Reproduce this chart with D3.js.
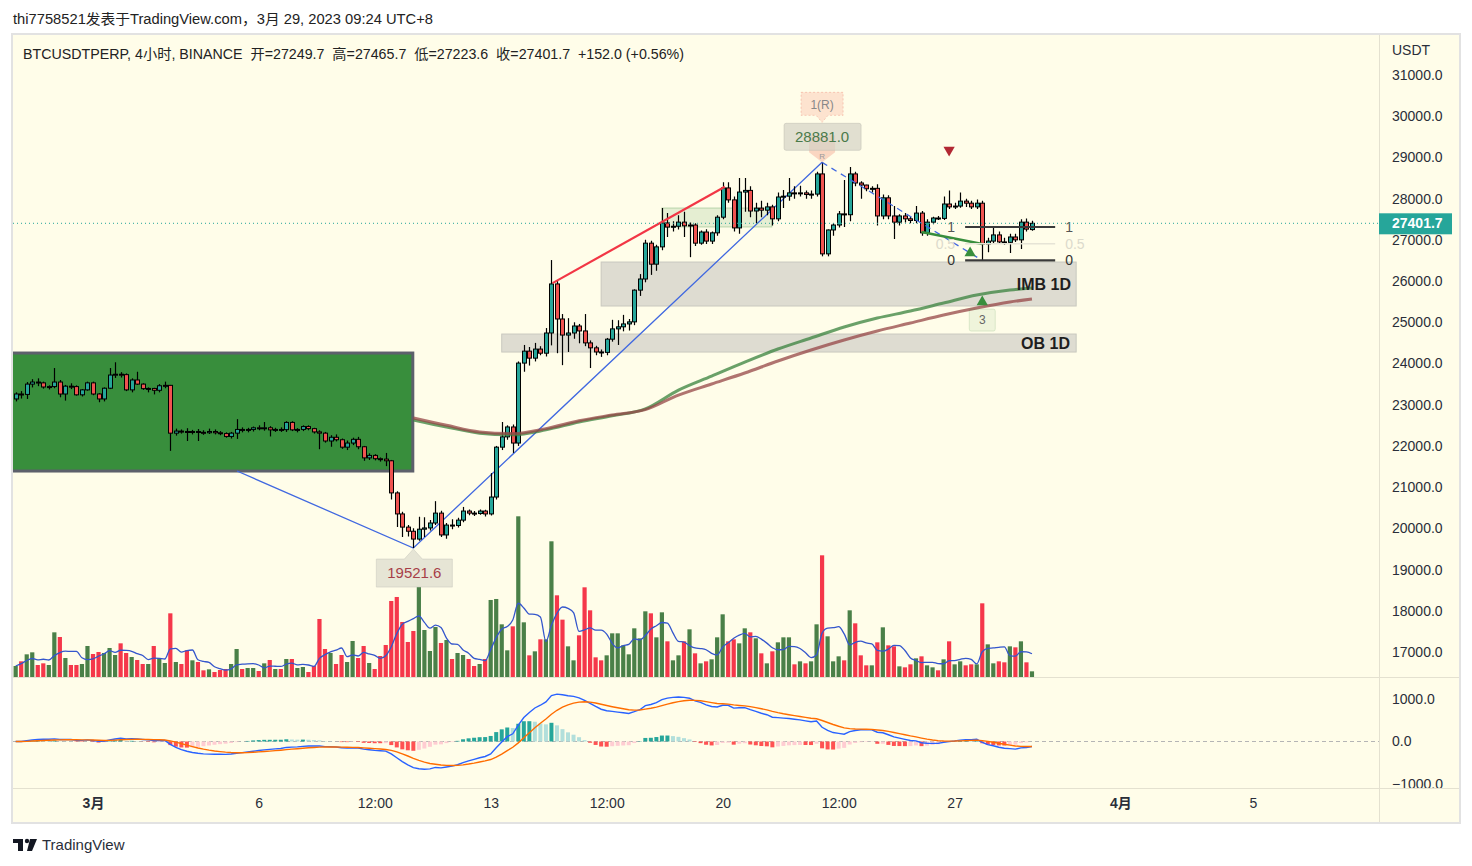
<!DOCTYPE html>
<html><head><meta charset="utf-8">
<script src="https://cdn.jsdelivr.net/npm/d3@7"></script>
<style>
body{margin:0;background:#fff;}
svg text{font-family:"Liberation Sans","Noto Sans CJK SC",sans-serif;}
</style></head><body>
<svg id="c" width="1472" height="866"></svg>
<script>
// ---------------- DATA ----------------
const barStartUTC = Date.UTC(2023,1,26,16,0); // first 4h bar (UTC+8 wall clock)
const barHours = 4;
// [open, high, low, close]
const ohlc = [
[23140,23300,23080,23260],[23260,23330,23150,23250],[23250,23550,23140,23500],[23500,23620,23420,23550],
[23550,23640,23450,23530],[23530,23560,23390,23430],[23430,23470,23370,23440],[23440,23890,23400,23550],
[23550,23600,23180,23260],[23260,23480,23100,23450],[23450,23520,23380,23440],[23440,23470,23220,23240],
[23240,23380,23200,23360],[23360,23560,23340,23530],[23530,23560,23230,23260],[23260,23280,23060,23140],
[23140,23420,23080,23400],[23400,23890,23380,23720],[23720,24030,23650,23740],[23740,23790,23660,23730],
[23730,23760,23330,23360],[23360,23640,23300,23600],[23600,23800,23480,23500],[23500,23520,23360,23390],
[23390,23420,23300,23395],[23395,23410,23250,23350],[23350,23500,23300,23460],[23460,23560,23400,23470],
[23470,23480,21880,22310],[22310,22420,22250,22360],[22360,22400,22300,22350],[22350,22430,22120,22340],
[22340,22390,22280,22350],[22350,22410,22120,22330],[22330,22380,22270,22320],[22320,22420,22290,22350],
[22350,22400,22280,22320],[22320,22360,22260,22300],[22300,22330,22200,22230],[22230,22340,22180,22310],
[22310,22650,22170,22400],[22400,22450,22330,22390],[22390,22440,22330,22400],[22400,22470,22350,22440],
[22440,22500,22380,22430],[22430,22580,22370,22440],[22440,22480,22230,22390],[22390,22440,22340,22400],
[22400,22450,22340,22395],[22395,22600,22340,22570],[22570,22600,22360,22390],[22390,22430,22330,22400],
[22400,22500,22360,22470],[22470,22500,22380,22420],[22420,22440,22300,22340],[22340,22380,21920,22310],
[22310,22340,22080,22120],[22120,22260,21980,22210],[22210,22280,22110,22150],[22150,22180,21930,21970],
[21970,22130,21900,22070],[22070,22200,22020,22160],[22160,22220,21920,21980],[21980,22000,21640,21710],
[21710,21820,21660,21770],[21770,21800,21650,21690],[21690,21720,21620,21680],[21680,21830,21510,21640],
[21640,21660,20700,20860],[20860,20900,20030,20350],[20350,20400,19790,20030],[20030,20080,19800,19930],
[19930,20000,19521.6,19740],[19740,20280,19700,19980],[19980,20270,19790,20010],[20010,20200,19950,20130],
[20130,20660,20080,20370],[20370,20430,19790,19840],[19840,20130,19750,20080],[20080,20220,19980,20070],
[20070,20260,20020,20200],[20200,20520,20150,20420],[20420,20460,20320,20370],[20370,20420,20300,20360],
[20360,20460,20330,20420],[20420,20450,20290,20350],[20350,21340,20310,20760],[20760,22000,20700,21970],
[21970,22580,21900,22220],[22220,22500,22150,22460],[22460,22520,21830,22070],[22070,24050,22000,24010],
[24010,24450,23800,24300],[24300,24400,23950,24130],[24130,24500,24050,24350],[24350,24420,24200,24250],
[24250,24860,24170,24740],[24740,26510,24440,25930],[25930,26000,24250,25080],[25080,25200,23960,24690],
[24690,25100,24280,24740],[24740,25000,24600,24910],[24910,24960,24490,24790],[24790,25200,24420,24500],
[24500,24560,23890,24380],[24380,24430,24200,24280],[24280,24340,24160,24270],[24270,24620,24200,24590],
[24590,25060,24530,24840],[24840,25050,24450,24890],[24890,25180,24780,24960],[24960,25080,24800,25010],
[25010,25800,24930,25780],[25780,26170,25640,26050],[26050,27000,25970,26920],[26920,26980,26150,26410],
[26410,26880,26250,26830],[26830,27770,26750,27410],[27410,27650,27070,27310],[27310,27450,27200,27330],
[27330,27600,27250,27430],[27430,27680,27070,27340],[27340,27420,26580,27360],[27360,27400,26850,26920],
[26920,27230,26880,27190],[27190,27260,26900,26970],[26970,27200,26900,27170],[27170,27600,27100,27550],
[27550,28400,27500,28260],[28260,28400,27900,27970],[27970,28050,27200,27290],[27290,28500,27150,28160],
[28160,28500,27680,28200],[28200,28300,27550,27700],[27700,27900,27400,27770],[27770,27950,27550,27720],
[27720,27900,27600,27800],[27800,27850,27350,27510],[27510,28150,27450,28040],[28040,28210,27770,28060],
[28060,28500,27950,28140],[28140,28300,28000,28120],[28120,28310,28050,28140],[28140,28200,28000,28100],
[28100,28200,28000,28110],[28110,28650,28050,28600],[28600,28881,26600,26660],[26660,27250,26600,27240],
[27240,27400,27100,27360],[27360,27700,27300,27630],[27630,28450,27310,27610],[27610,28770,27450,28600],
[28600,28650,28300,28380],[28380,28420,28000,28330],[28330,28340,28180,28240],[28240,28300,28150,28250],
[28250,28350,27350,27580],[27580,28100,27500,28020],[28020,28080,27500,27580],[27580,27820,27020,27430],
[27430,27620,27350,27580],[27580,27650,27420,27510],[27510,27560,27400,27470],[27470,27820,27400,27650],
[27650,27700,27100,27170],[27170,27500,27100,27430],[27430,27560,27380,27530],[27530,27580,27480,27520],
[27520,28050,27480,27870],[27870,28200,27750,27800],[27800,27900,27750,27820],[27820,28150,27780,27940],
[27940,28000,27800,27890],[27890,27950,27750,27800],[27800,27980,27750,27890],[27890,27950,26500,26900],
[26900,27050,26700,26970],[26970,27300,26900,27120],[27120,27200,26900,26950],[26950,27050,26880,26940],
[26940,27150,26680,27070],[27070,27150,26950,27000],[27000,27500,26780,27430],[27430,27520,27200,27260],
[27249.7,27465.7,27223.6,27401.7]
];
// volume (relative units)
const volume = [
33,47,68,74,36,41,36,134,120,57,36,36,39,93,69,75,72,87,66,101,72,60,51,39,39,93,57,42,191,45,
39,80,50,45,20,23,15,21,24,39,84,24,27,27,18,41,51,24,24,54,54,27,30,15,33,174,84,72,39,66,
45,108,57,93,42,24,63,96,228,240,165,105,138,270,141,78,150,102,111,54,72,66,54,33,39,54,231,234,158,80,
152,482,164,65,77,113,113,407,245,172,92,50,125,269,200,59,50,65,131,131,95,68,146,116,197,191,119,194,107,50,
65,107,143,71,41,47,53,119,188,107,113,101,146,134,116,71,41,77,104,119,119,38,47,41,47,158,365,122,47,62,
50,200,161,65,35,35,104,149,95,92,32,29,38,56,62,35,29,20,53,107,38,47,35,38,38,221,98,41,47,44,
92,89,107,44,17
];
// higher-timeframe moving averages (sampled daily)
const maIdx   = [72,78,84,90,96,102,108,114,120,126,132,138,144,150,156,162,168,174,180,184];
const maGreen = [22630,22460,22310,22270,22390,22580,22730,22900,23356,23696,24036,24351,24618,24885,25103,25273,25467,25661,25783,25831];
const maBrown = [22680,22500,22340,22300,22420,22610,22750,22880,23235,23502,23769,24060,24327,24570,24788,24982,25176,25346,25492,25564];
// ticks
const timeTickDates  = ["2023-03-01T00:00","2023-03-06T00:00","2023-03-09T12:00","2023-03-13T00:00","2023-03-16T12:00","2023-03-20T00:00","2023-03-23T12:00","2023-03-27T00:00","2023-04-01T00:00","2023-04-05T00:00"];
const timeTickLabels = ["3月","6","12:00","13","12:00","20","12:00","27","4月","5"];
const priceTicks = [17000,18000,19000,20000,21000,22000,23000,24000,25000,26000,27000,28000,29000,30000,31000];
const macdTicks = [1000,0,-1000];
// drawings: [barIndexStart, barIndexEnd, priceTop, priceBottom]
const boxGreen = [-4, 71.9, 24254, 21391];
const boxIMB   = [106, 192, 26462, 25395];
const boxOB    = [88, 192, 24715, 24278];
const boxLight = [117, 136.9, 27773, 27312];
const zigzag   = [[40.07,21391],[72,19521.6],[146,28881]];
const zigzagDash = [[146,28881],[175,26500]];
const redLine  = [[97.2,25950],[128.4,28290]];
const greenLine= [[164,27190],[175,26900]];
const fibRange = [171.9, 188.2];
const fibLevels = [1, 0.5, 0];
const fibPrices = [27312, 26906, 26500];
const lastPrice = 27401.7;

// ---------------- SETUP ----------------
const svg = d3.select("#c");
const L=13, R=1379, T=35, MB=677.5, MT=678, MBOT=788, BOT=822;
const tb = i => new Date(barStartUTC + i*barHours*3600e3);
const x = d3.scaleUtc().domain([new Date(Date.UTC(2023,2,1)), new Date(Date.UTC(2023,2,8))]).range([93, 93+7*33.14]);
const y = d3.scaleLinear().domain([17000,31000]).range([652,75]);
const yv = d3.scaleLinear().domain([0,482]).range([677,516.3]);
const ym = d3.scaleLinear().domain([-1000,1000]).range([784,699]);
const xi = i => x(tb(i));

svg.append("rect").attr("width",1472).attr("height",866).attr("fill","#fff");
svg.append("rect").attr("x",12).attr("y",34).attr("width",1448).attr("height",789)
  .attr("fill","#fffde9").attr("stroke","#e2e2e2").attr("stroke-width",2);

const defs = svg.append("defs");
defs.append("clipPath").attr("id","cm").append("rect").attr("x",L).attr("y",T).attr("width",R-L).attr("height",MB-T);
defs.append("clipPath").attr("id","cd").append("rect").attr("x",L).attr("y",MT).attr("width",R-L).attr("height",MBOT-MT);
defs.append("clipPath").attr("id","ca").append("rect").attr("x",R).attr("y",MT).attr("width",80).attr("height",MBOT-MT);

// separators
svg.append("line").attr("x1",R+0.5).attr("x2",R+0.5).attr("y1",T).attr("y2",BOT).attr("stroke","#e4e1d0");
svg.append("line").attr("x1",L).attr("x2",1459).attr("y1",MB).attr("y2",MB).attr("stroke","#e4e1d0");
svg.append("line").attr("x1",L).attr("x2",1459).attr("y1",MBOT+0.5).attr("y2",MBOT+0.5).attr("stroke","#e4e1d0");

const main = svg.append("g").attr("clip-path","url(#cm)");

// volume
const up = d => d[3] >= d[0];
main.append("g").selectAll("rect").data(volume).join("rect")
  .attr("x",(v,i)=>xi(i)-2.1).attr("width",4.2)
  .attr("y",v=>yv(v)).attr("height",v=>677-yv(v))
  .attr("fill",(v,i)=> up(ohlc[i]) ? "#4a8048" : "#f5374a");
const volMA = volume.map((v,i)=> d3.mean(volume.slice(Math.max(0,i-4), i+1)));
main.append("path").datum(volMA)
  .attr("d", d3.line().x((v,i)=>xi(i)).y(v=>yv(v)).curve(d3.curveMonotoneX))
  .attr("fill","none").attr("stroke","#3456cc").attr("stroke-width",1.3);

// boxes
function box(b, fill, stroke, sw){
  return main.append("rect").attr("x",xi(b[0])).attr("y",y(b[2]))
    .attr("width",xi(b[1])-xi(b[0])).attr("height",y(b[3])-y(b[2]))
    .attr("fill",fill).attr("stroke",stroke).attr("stroke-width",sw);
}
box(boxIMB,"#dedcd1","#c9c8bf",1);
box(boxOB,"#dedcd1","#c9c8bf",1);
box(boxLight,"rgba(56,142,60,0.13)","rgba(56,142,60,0.3)",1);
box(boxGreen,"#388e3c","#5d606b",3);

// zigzag blue
const lineGen = d3.line().x(d=>xi(d[0])).y(d=>y(d[1]));
main.append("path").datum(zigzag).attr("d",lineGen).attr("fill","none").attr("stroke","#4068e0").attr("stroke-width",1.3);

// candles
const cg = main.append("g");
cg.selectAll("line").data(ohlc).join("line")
  .attr("x1",(d,i)=>Math.round(xi(i))+0.5).attr("x2",(d,i)=>Math.round(xi(i))+0.5)
  .attr("y1",d=>y(d[1])).attr("y2",d=>y(d[2])).attr("stroke","#000").attr("stroke-width",1.2);
cg.selectAll("rect").data(ohlc).join("rect")
  .attr("x",(d,i)=>Math.round(xi(i))-1.5).attr("width",4)
  .attr("y",d=>y(Math.max(d[0],d[3])))
  .attr("height",d=>Math.max(1,Math.abs(y(d[0])-y(d[3]))))
  .attr("fill",d=>up(d)?"#26a69a":"#ef5350").attr("stroke","#000").attr("stroke-width",1);

// moving averages
const maLine = d3.line().x(d=>xi(d[0])).y(d=>y(d[1])).curve(d3.curveMonotoneX);
main.append("path").datum(maIdx.map((k,j)=>[k,maGreen[j]])).attr("d",maLine)
  .attr("fill","none").attr("stroke","rgba(56,130,60,0.75)").attr("stroke-width",3);
main.append("path").datum(maIdx.map((k,j)=>[k,maBrown[j]])).attr("d",maLine)
  .attr("fill","none").attr("stroke","rgba(150,70,70,0.75)").attr("stroke-width",3);

// trend lines
main.append("path").datum(zigzagDash).attr("d",lineGen).attr("fill","none").attr("stroke","#4068e0").attr("stroke-width",1.3).attr("stroke-dasharray","6,5");
main.append("path").datum(redLine).attr("d",lineGen).attr("fill","none").attr("stroke","#f23645").attr("stroke-width",2.2);
main.append("path").datum(greenLine).attr("d",lineGen).attr("fill","none").attr("stroke","#388e3c").attr("stroke-width",2.5);

// fib
const fibColors = ["#3a3a3a","#e6e4d6","#3a3a3a"];
const fibText = ["#555","#dcdacc","#333"];
fibLevels.forEach((lv,k)=>{
  const yy = y(fibPrices[k]);
  main.append("line").attr("x1",xi(fibRange[0])).attr("x2",xi(fibRange[1])).attr("y1",yy).attr("y2",yy)
    .attr("stroke",fibColors[k]).attr("stroke-width",k===1?1.5:2.2);
  main.append("text").attr("x",xi(fibRange[0])-10).attr("y",yy).attr("dy","0.35em").attr("text-anchor","end")
    .attr("font-size",14).attr("fill",fibText[k]).text(lv);
  main.append("text").attr("x",xi(fibRange[1])+10).attr("y",yy).attr("dy","0.35em").attr("text-anchor","start")
    .attr("font-size",14).attr("fill",fibText[k]).text(lv);
});

// box labels
main.append("text").attr("x",1071).attr("y",290).attr("text-anchor","end").attr("font-size",16).attr("font-weight","bold").attr("fill","#1e1e1e").text("IMB 1D");
main.append("text").attr("x",1070).attr("y",349).attr("text-anchor","end").attr("font-size",16).attr("font-weight","bold").attr("fill","#1e1e1e").text("OB 1D");

// triangles
const tri = d3.symbol().type(d3.symbolTriangle).size(55);
main.append("path").attr("d",tri).attr("transform",`translate(${xi(169)},${y(29180)}) rotate(180)`).attr("fill","#b22833");
main.append("path").attr("d",tri).attr("transform",`translate(${xi(172.8)},${y(26680)})`).attr("fill","#388e3c");
const t3x = xi(175), t3y = y(25490);
main.append("path").attr("d",tri).attr("transform",`translate(${t3x},${t3y})`).attr("fill","#388e3c");
main.append("rect").attr("x",t3x-13).attr("y",t3y+7).attr("width",26).attr("height",22).attr("rx",2)
  .attr("fill","rgba(56,142,60,0.08)").attr("stroke","rgba(56,142,60,0.15)");
main.append("text").attr("x",t3x).attr("y",t3y+18).attr("dy","0.35em").attr("text-anchor","middle").attr("font-size",12).attr("fill","#666").text("3");

// peak annotations
const px = xi(146), py = y(28881);
main.append("path").attr("d",`M${px-13},${py-27}H${px+13}V${py-10}L${px},${py}L${px-13},${py-10}Z`).attr("fill","rgba(242,140,120,0.35)");
main.append("rect").attr("x",px-38).attr("y",py-39).attr("width",77).attr("height",27).attr("rx",2)
  .attr("fill","rgba(212,210,196,0.7)").attr("stroke","rgba(190,190,178,0.5)");
main.append("text").attr("x",px).attr("y",py-25.5).attr("dy","0.35em").attr("text-anchor","middle").attr("font-size",15).attr("fill","#4a7a4a").text("28881.0");
main.append("text").attr("x",px).attr("y",py-6).attr("dy","0.35em").attr("text-anchor","middle").attr("font-size",8).attr("fill","#999").text("R");
main.append("path").attr("d",`M${px-21},${py-70}H${px+21}V${py-47}H${px+6}L${px},${py-40}L${px-6},${py-47}H${px-21}Z`)
  .attr("fill","rgba(247,150,130,0.25)").attr("stroke","rgba(240,150,130,0.45)").attr("stroke-dasharray","2,2");
main.append("text").attr("x",px).attr("y",py-58).attr("dy","0.35em").attr("text-anchor","middle").attr("font-size",12).attr("fill","#888").text("1(R)");

// low annotation
const lx = xi(72), ly = y(19521.6);
main.append("path").attr("d",`M${lx-37},${ly+11}H${lx-9}L${lx},${ly+1}L${lx+9},${ly+11}H${lx+39}V${ly+39}H${lx-37}Z`)
  .attr("fill","rgba(222,220,206,0.75)").attr("stroke","rgba(200,200,190,0.5)");
main.append("text").attr("x",lx+1).attr("y",ly+25).attr("dy","0.35em").attr("text-anchor","middle").attr("font-size",15).attr("fill","#a63e48").text("19521.6");

// last price line
main.append("line").attr("x1",L).attr("x2",R).attr("y1",y(lastPrice)).attr("y2",y(lastPrice))
  .attr("stroke","#26a69a").attr("stroke-width",1).attr("stroke-dasharray","1,3");

// ---------------- MACD ----------------
const closes = ohlc.map(d=>d[3]);
function ema(arr,n){ const k=2/(n+1); let e=arr[0]; return arr.map((v,i)=> i===0 ? e : (e = v*k + e*(1-k))); }
const e12 = ema(closes,12), e26 = ema(closes,26);
const macd = e12.map((v,i)=>v-e26[i]);
const signal = ema(macd,9);
const hist = macd.map((v,i)=>v-signal[i]);
const mg = svg.append("g").attr("clip-path","url(#cd)");
mg.append("line").attr("x1",L).attr("x2",R).attr("y1",ym(0)).attr("y2",ym(0)).attr("stroke","#b5b5b5").attr("stroke-dasharray","4,3");
mg.selectAll("rect").data(hist).join("rect")
  .attr("x",(v,i)=>xi(i)-2).attr("width",4)
  .attr("y",v=>Math.min(ym(v),ym(0))).attr("height",v=>Math.abs(ym(v)-ym(0)))
  .attr("fill",(v,i)=>{ const p = i>0?hist[i-1]:v;
    return v>=0 ? (v>p ? "#26a69a" : "#b2dfdb") : (v>p ? "#ffcdd2" : "#ff5252"); });
const mLine = d3.line().x((v,i)=>xi(i)).y(v=>ym(v));
mg.append("path").datum(macd).attr("d",mLine).attr("fill","none").attr("stroke","#2962ff").attr("stroke-width",1.4);
mg.append("path").datum(signal).attr("d",mLine).attr("fill","none").attr("stroke","#ff6d00").attr("stroke-width",1.4);

// ---------------- AXES ----------------
const txtCol = "#2a2e39";
const pa = svg.append("g").attr("transform",`translate(${R},0)`)
  .call(d3.axisRight(y).tickValues(priceTicks).tickFormat(d=>d.toFixed(1)).tickSize(0).tickPadding(13));
pa.select(".domain").remove();
pa.selectAll("text").attr("font-size",14).attr("fill",txtCol).attr("font-family","Liberation Sans");
svg.append("text").attr("x",1392).attr("y",55).attr("font-size",14).attr("fill",txtCol).text("USDT");

const ma = svg.append("g").attr("clip-path","url(#ca)").append("g").attr("transform",`translate(${R},0)`)
  .call(d3.axisRight(ym).tickValues(macdTicks).tickFormat(d=> d<0 ? "−"+Math.abs(d).toFixed(1) : d.toFixed(1)).tickSize(0).tickPadding(13));
ma.select(".domain").remove();
ma.selectAll("text").attr("font-size",14).attr("fill",txtCol).attr("font-family","Liberation Sans");

// price label
svg.append("rect").attr("x",R).attr("y",y(lastPrice)-10).attr("width",73).attr("height",21).attr("fill","#26a69a");
svg.append("text").attr("x",1392).attr("y",y(lastPrice)).attr("dy","0.36em").attr("font-size",14).attr("font-weight","bold").attr("fill","#fff").text(lastPrice.toFixed(1));

const tdates = timeTickDates.map(s=>new Date(s+":00Z"));
const ta = svg.append("g").attr("transform",`translate(0,${MBOT})`)
  .call(d3.axisBottom(x).tickValues(tdates).tickFormat((d,i)=>timeTickLabels[i]).tickSize(0).tickPadding(10));
ta.select(".domain").remove();
ta.selectAll("text").attr("font-size",14).attr("fill",txtCol)
  .attr("font-weight",(d,i)=> timeTickLabels[i].includes("月") ? "bold" : "normal");

// ---------------- HEADER / FOOTER ----------------
svg.append("text").attr("x",13).attr("y",24).attr("font-size",14).attr("fill","#222")
  .attr("textLength",420).attr("lengthAdjust","spacingAndGlyphs")
  .text("thi7758521发表于TradingView.com，3月 29, 2023 09:24 UTC+8");
svg.append("text").attr("x",23).attr("y",59).attr("font-size",14).attr("fill","#222")
  .style("white-space","pre").attr("xml:space","preserve")
  .attr("textLength",661).attr("lengthAdjust","spacingAndGlyphs")
  .text("BTCUSDTPERP, 4小时, BINANCE  开=27249.7  高=27465.7  低=27223.6  收=27401.7  +152.0 (+0.56%)");

const logo = svg.append("g").attr("fill","#131722");
logo.append("rect").attr("x",13).attr("y",839).attr("width",10).attr("height",4);
logo.append("rect").attr("x",18).attr("y",839).attr("width",5).attr("height",12);
logo.append("circle").attr("cx",27).attr("cy",841).attr("r",2.2);
logo.append("path").attr("d","M30,839H37L32,851H27Z");
svg.append("text").attr("x",42).attr("y",850).attr("font-size",15).attr("fill","#2a2e39").text("TradingView");
</script></body></html>
